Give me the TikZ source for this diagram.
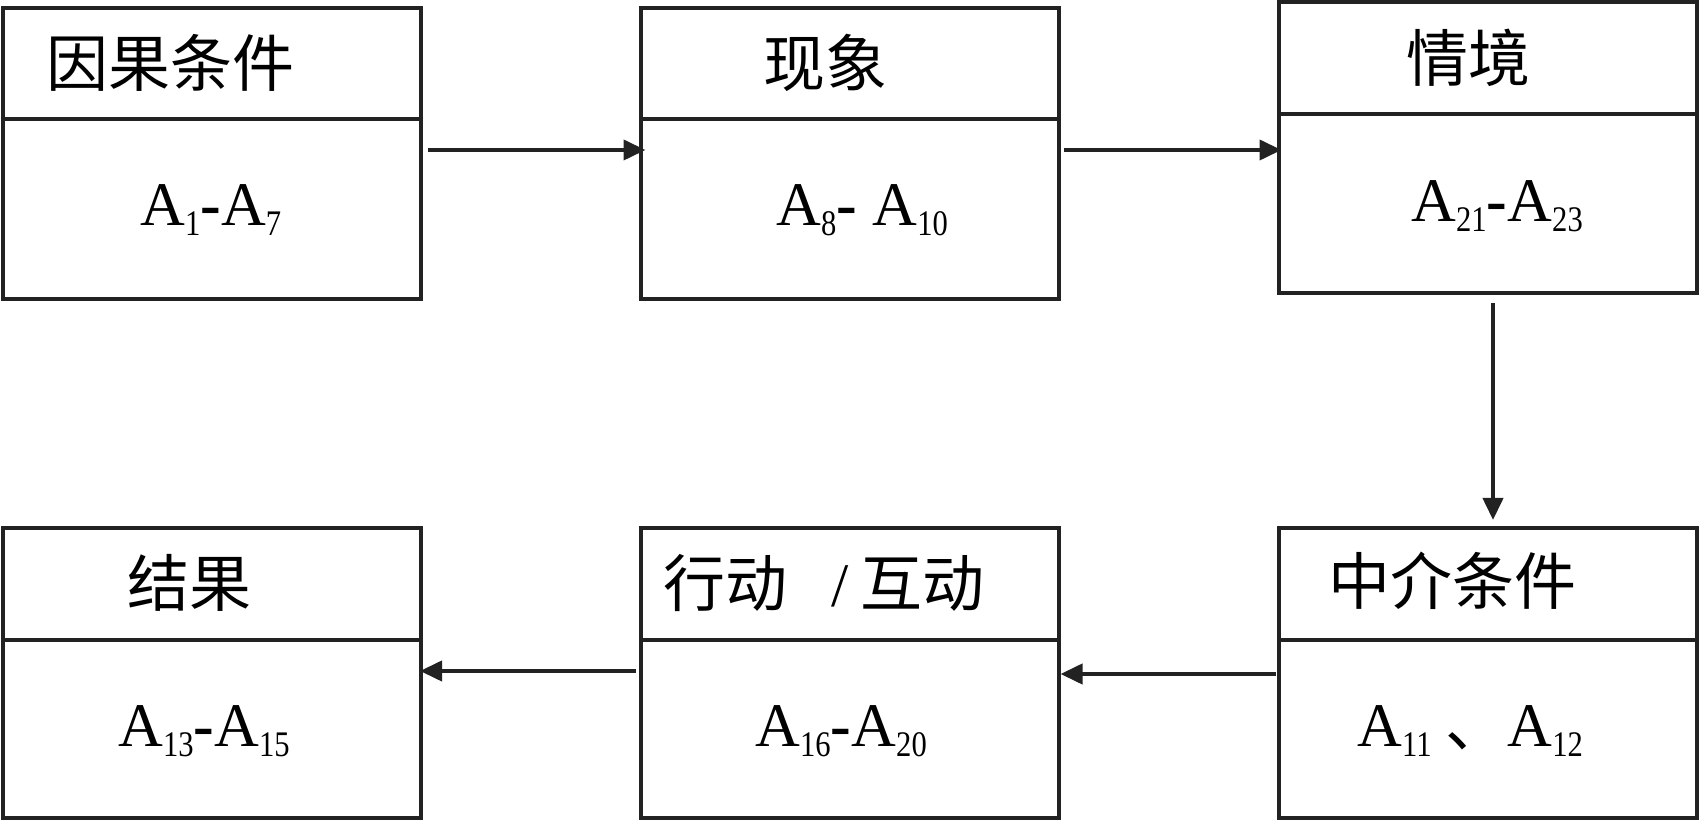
\documentclass[tikz,border=0pt]{standalone}
\usepackage{fontspec}
\setmainfont{Liberation Serif}
\newfontfamily\cjk{Noto Sans CJK SC}
\usetikzlibrary{arrows.meta,calc}
\definecolor{ln}{HTML}{222222}
\newcommand\lowsub[1]{\raisebox{-5pt}{\scalebox{0.85}[1]{\fontsize{18pt}{18pt}\selectfont #1}}}
\tikzset{
  box/.style={draw=ln, line width=2pt, minimum width=209pt, inner sep=0pt, outer sep=0pt},
  divider/.style={draw=ln, line width=2pt},
  title/.style={anchor=base west, inner sep=0pt, font=\cjk\fontsize{31pt}{31pt}\selectfont},
  body/.style={anchor=base west, inner sep=0pt, font=\fontsize{31pt}{31pt}\selectfont},
  arr/.style={draw=ln, line width=2pt, -{Triangle[length=11pt,width=10pt]}}
}
\begin{document}
\begin{tikzpicture}[x=0.5pt,y=-0.5pt]
\useasboundingbox (0,0) rectangle (1699,822);
% boxes
\node[box, minimum height=145.5pt] (b1) at (212,153.5) {};
\node[box, minimum height=145.5pt] (b2) at (849.5,153.5) {};
\node[box, minimum height=145.5pt] (b3) at (1487.5,147.5) {};
\node[box, minimum height=145pt] (b4) at (212,673) {};
\node[box, minimum height=145pt] (b5) at (849.5,673) {};
\node[box, minimum height=145pt] (b6) at (1487.5,673) {};
% dividers
\draw[divider] (b1.west |- 0,119) -- (b1.east |- 0,119);
\draw[divider] (b2.west |- 0,119) -- (b2.east |- 0,119);
\draw[divider] (b3.west |- 0,114) -- (b3.east |- 0,114);
\draw[divider] (b4.west |- 0,640) -- (b4.east |- 0,640);
\draw[divider] (b5.west |- 0,640) -- (b5.east |- 0,640);
\draw[divider] (b6.west |- 0,640) -- (b6.east |- 0,640);
% titles
\node[title] (t1) at (46,87) {因果条件};
\node[title] (t2) at (763,87) {现象};
\node[title] (t3) at (1406,82) {情境};
\node[title] (t4) at (127,607) {结果};
\node[title] (t5) at (663,607) {行动\hspace{22pt}{\rmfamily /}\hspace{6pt}互动};
\node[title] (t6) at (1328,605) {中介条件};
% bodies
\node[body] (c1) at (140,226) {A\lowsub{1}\textbf{-}A\lowsub{7}};
\node[body] (c2) at (776,226) {A\lowsub{8}\textbf{-} A\lowsub{10}};
\node[body] (c3) at (1411,222) {A\lowsub{21}\textbf{-}A\lowsub{23}};
\node[body] (c4) at (118,747) {A\lowsub{13}\textbf{-}A\lowsub{15}};
\node[body] (c5) at (755,747) {A\lowsub{16}\textbf{-}A\lowsub{20}};
\node[body] (c6) at (1357,747) {A\lowsub{11}\hspace{7pt}{\cjk 、}A\lowsub{12}};
% arrows
\draw[arr] ($(b1.east |- 0,150)+(7,0)$) -- ($(b2.west |- 0,150)+(5,0)$);
\draw[arr] ($(b2.east |- 0,150)+(5,0)$) -- ($(b3.west |- 0,150)+(3,0)$);
\draw[arr] ($(b3.south)+(5.5,10)$) -- ($(b6.north)+(5.5,-8)$);
\draw[arr] ($(b6.west |- 0,674)+(-3,0)$) -- ($(b5.east |- 0,674)+(2,0)$);
\draw[arr] ($(b5.west |- 0,671)+(-5,0)$) -- ($(b4.east |- 0,671)+(-1,0)$);
\end{tikzpicture}
\end{document}
